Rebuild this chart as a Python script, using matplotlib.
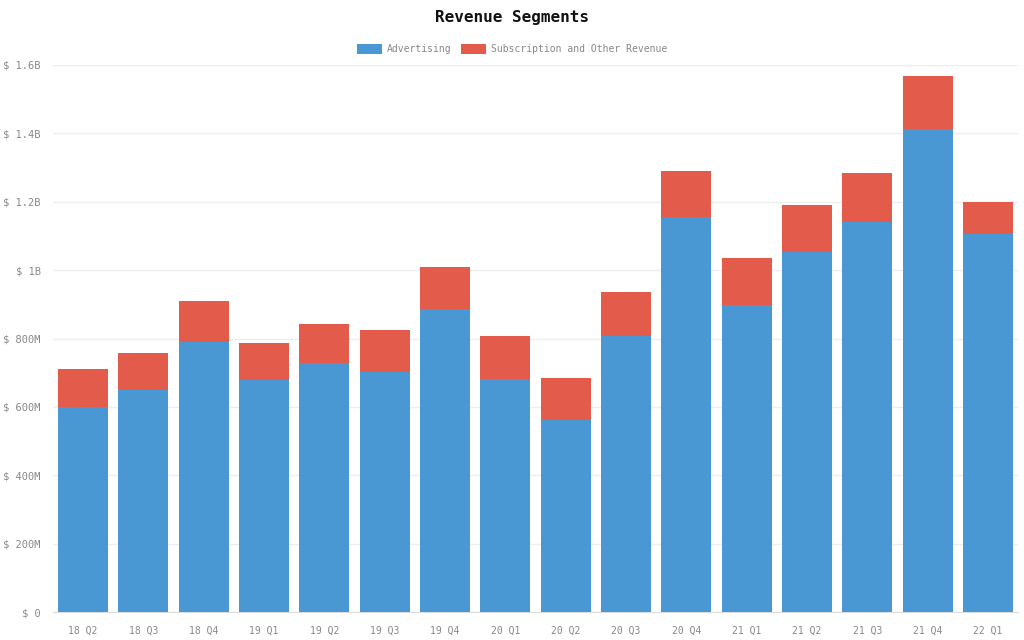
import matplotlib.pyplot as plt
import numpy as np

# 분기별 매출 (단위: 백만 달러)
quarters = ['18 Q2', '18 Q3', '18 Q4', '19 Q1', '19 Q2', '19 Q3', '19 Q4', '20 Q1',
            '20 Q2', '20 Q3', '20 Q4', '21 Q1', '21 Q2', '21 Q3', '21 Q4', '22 Q1']
advertising = [601, 650, 791, 679, 727, 702, 885, 682, 562, 808, 1155, 899, 1053, 1141, 1413, 1106]
subscription = [110, 108, 118, 108, 114, 122, 123, 126, 121, 128, 134, 137, 137, 143, 156, 93]

ytick_vals = [0, 200, 400, 600, 800, 1000, 1200, 1400, 1600]
ytick_labels = ['$ 0', '$ 200M', '$ 400M', '$ 600M', '$ 800M', '$ 1B', '$ 1.2B', '$ 1.4B', '$ 1.6B']

plt.rcParams['font.family'] = ['DejaVu Sans Mono']

fig = plt.figure(figsize=(10.24, 6.4), dpi=100)
ax = fig.add_axes([53 / 1024, 28 / 640, 965 / 1024, 547 / 640])

x = np.arange(len(quarters))
blue = '#4a98d3'
red = '#e35b4b'
ax.bar(x, advertising, width=0.83, color=blue, label='Advertising', zorder=3)
ax.bar(x, subscription, width=0.83, bottom=advertising, color=red,
       label='Subscription and Other Revenue', zorder=3)

ax.set_xlim(-0.5, len(quarters) - 0.5)
ax.set_ylim(0, 1600)
ax.set_yticks(ytick_vals)
ax.set_yticklabels(ytick_labels)
ax.set_xticks(x)
ax.set_xticklabels(quarters)
ax.tick_params(axis='both', colors='#888888', length=0)
ax.tick_params(axis='x', pad=10, labelsize=7)
ax.tick_params(axis='y', pad=9, labelsize=7.5)
ax.grid(axis='y', color='#eeeeee', linewidth=1, zorder=0)
for s in ['top', 'right', 'left']:
    ax.spines[s].set_visible(False)
ax.spines['bottom'].set_color('#dddddd')

fig.text(0.5, 0.972, 'Revenue Segments', ha='center', va='center',
         fontsize=11.5, fontweight='bold', color='#111111')
fig.legend(loc='center', bbox_to_anchor=(0.5, 0.923), ncol=2, frameon=False,
           fontsize=7, labelcolor='#888888', handlelength=2.6, handleheight=1.2,
           columnspacing=1.0, handletextpad=0.5)

plt.savefig('out.png', dpi=100)
